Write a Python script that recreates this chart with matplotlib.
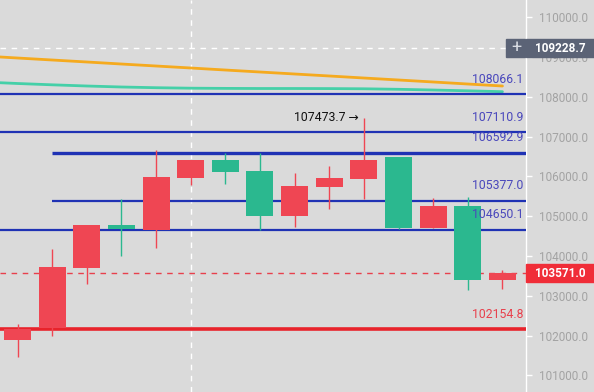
import numpy as np
import matplotlib
matplotlib.use("Agg")
import matplotlib.pyplot as plt
from matplotlib.patches import Rectangle
import matplotlib.transforms as mtransforms

plt.rcParams['font.family'] = ['Roboto', 'DejaVu Sans']

# candle data (15 bars), red = up, green = down
opens  = [101887, 102181, 103705, 104779, 104653, 105969, 106414, 106137,
          105006, 105742, 105936, 106482, 104711, 105265, 103396]
closes = [102163, 103730, 104787, 104671, 105994, 106414, 106120, 105006,
          105760, 105961, 106414, 104711, 105257, 103396, 103571]
highs  = [102289, 104183, 104787, 105440, 106665, 106414, 106582, 106582,
          106095, 106263, 107473.7, 106497, 105466, 105476, 103647]
lows   = [101467, 101995, 103295, 104007, 104193, 105785, 105803, 104653,
          104736, 105174, 105425, 104671, 104711, 103144, 103170]

# moving averages, first value belongs to the bar before the visible range
ma_slow = [109030, 108979, 108929, 108879, 108828, 108778, 108728, 108677,
           108627, 108577, 108527, 108476, 108426, 108376, 108325, 108275]
ma_fast = [108376, 108338, 108305, 108275, 108250, 108232, 108220, 108215,
           108212, 108212, 108210, 108205, 108192, 108174, 108154, 108132]

# horizontal levels
blue_levels = [108066.1, 107110.9, 106592.9, 105377.0, 104650.1]
blue_start  = [None, None, 1, 1, None]
support = 102154.8
last_price = 103571.0
cross_price = 109228.7
cross_bar = 5
yticks = [101000, 102000, 103000, 104000, 105000, 106000, 107000, 108000, 109000, 110000]

UP = '#ef4653'
DOWN = '#2bb88f'
BG = '#dadada'
BLUE = '#1f32b4'
LBLUE = '#4a48bc'

fig = plt.figure(figsize=(5.94, 3.92), dpi=100)
fig.patch.set_facecolor(BG)
ax = fig.add_axes([0, 0, 526 / 594, 1])
ax.set_facecolor(BG)

x = np.arange(len(opens))
xl = (-17.5 / 34.64, (526 - 17.5) / 34.64)
ax.set_xlim(*xl)
ax.set_ylim(100579, 110438)

# moving averages
xm = np.arange(-1, len(opens))
ax.plot(xm, ma_slow, color='#f5aa1e', lw=2, zorder=2, solid_capstyle='round')
ax.plot(xm, ma_fast, color='#45d0a8', lw=2, zorder=2, solid_capstyle='round')

# levels
for p, s in zip(blue_levels, blue_start):
    x0 = xl[0] if s is None else s
    lw = 2.4 if p == 106592.9 else 1.6
    ax.hlines(p, x0, xl[1], color=BLUE, lw=lw, zorder=3)
ax.hlines(support, xl[0], xl[1], color='#e8232b', lw=2.6, zorder=3)
ax.hlines(last_price, xl[0], xl[1], color='#e8404c', lw=1, ls=(0, (4, 4)), zorder=3)
ax.hlines(cross_price, xl[0], xl[1], color='white', lw=1, ls=(0, (4, 4)), zorder=1)
ax.axvline(cross_bar, color='white', lw=1, ls=(0, (4, 4)), zorder=1)

# candles
cols = [UP if c >= o else DOWN for o, c in zip(opens, closes)]
bottoms = [min(o, c) for o, c in zip(opens, closes)]
heights = [max(abs(c - o), 25) for o, c in zip(opens, closes)]
ax.vlines(x, lows, highs, color=cols, lw=1, zorder=4)
ax.bar(x, heights, bottom=bottoms, width=0.78, color=cols, zorder=4)

# level labels
trans = mtransforms.blended_transform_factory(ax.transAxes, ax.transData)
for p in blue_levels:
    ax.annotate(f'{p:.1f}', (0.9943, p), xycoords=trans, xytext=(0, 11),
                textcoords='offset points', ha='right', va='center',
                fontsize=8.8, color=LBLUE, zorder=6)
ax.annotate(f'{support:.1f}', (0.9943, support), xycoords=trans, xytext=(0, 11),
            textcoords='offset points', ha='right', va='center',
            fontsize=8.8, color='#e8404c', zorder=6)

# max price marker
hi = int(np.argmax(highs))
ax.annotate(f'{highs[hi]:.1f} \u2192', (hi, highs[hi]), xytext=(-4, 0),
            textcoords='offset points', ha='right', va='center',
            fontsize=8.8, color='#111111', zorder=6)

# y axis on the right
ax.set_xticks([])
ax.yaxis.tick_right()
ax.set_yticks(yticks)
ax.set_yticklabels([f'{t:.1f}' for t in yticks])
ax.tick_params(axis='y', colors='white', labelcolor='#a3a3a3', length=4,
               width=1, pad=5, labelsize=8.5)
for s in ['top', 'left', 'bottom']:
    ax.spines[s].set_visible(False)
ax.spines['right'].set_color('white')
ax.spines['right'].set_linewidth(1)

# price boxes on the axis
boxh = 18 / 392 * (110438 - 100579)
ax.add_patch(Rectangle((1.0, cross_price - boxh / 2), 68 / 526, boxh,
                       transform=trans, clip_on=False, color='#5b6376', zorder=7))
ax.add_patch(Rectangle((1.0 - 20 / 526, cross_price - boxh / 2), 19 / 526, boxh,
                       transform=trans, clip_on=False, color='#5b6376', zorder=7))
ax.text(1.0 - 10 / 526, cross_price, '+', transform=trans, ha='center', va='center',
        color='#d8dbe2', fontsize=13, zorder=8, clip_on=False)
ax.text(1.0 + 34 / 526, cross_price, f'{cross_price:.1f}', transform=trans,
        ha='center', va='center', color='white', fontsize=8.5, fontweight='bold',
        zorder=8, clip_on=False)
ax.add_patch(Rectangle((1.0, last_price - boxh / 2), 68 / 526, boxh,
                       transform=trans, clip_on=False, color='#f02d38', zorder=7))
ax.text(1.0 + 34 / 526, last_price, f'{last_price:.1f}', transform=trans,
        ha='center', va='center', color='white', fontsize=8.5, fontweight='bold',
        zorder=8, clip_on=False)

fig.savefig('out.png', dpi=100, facecolor=BG)
